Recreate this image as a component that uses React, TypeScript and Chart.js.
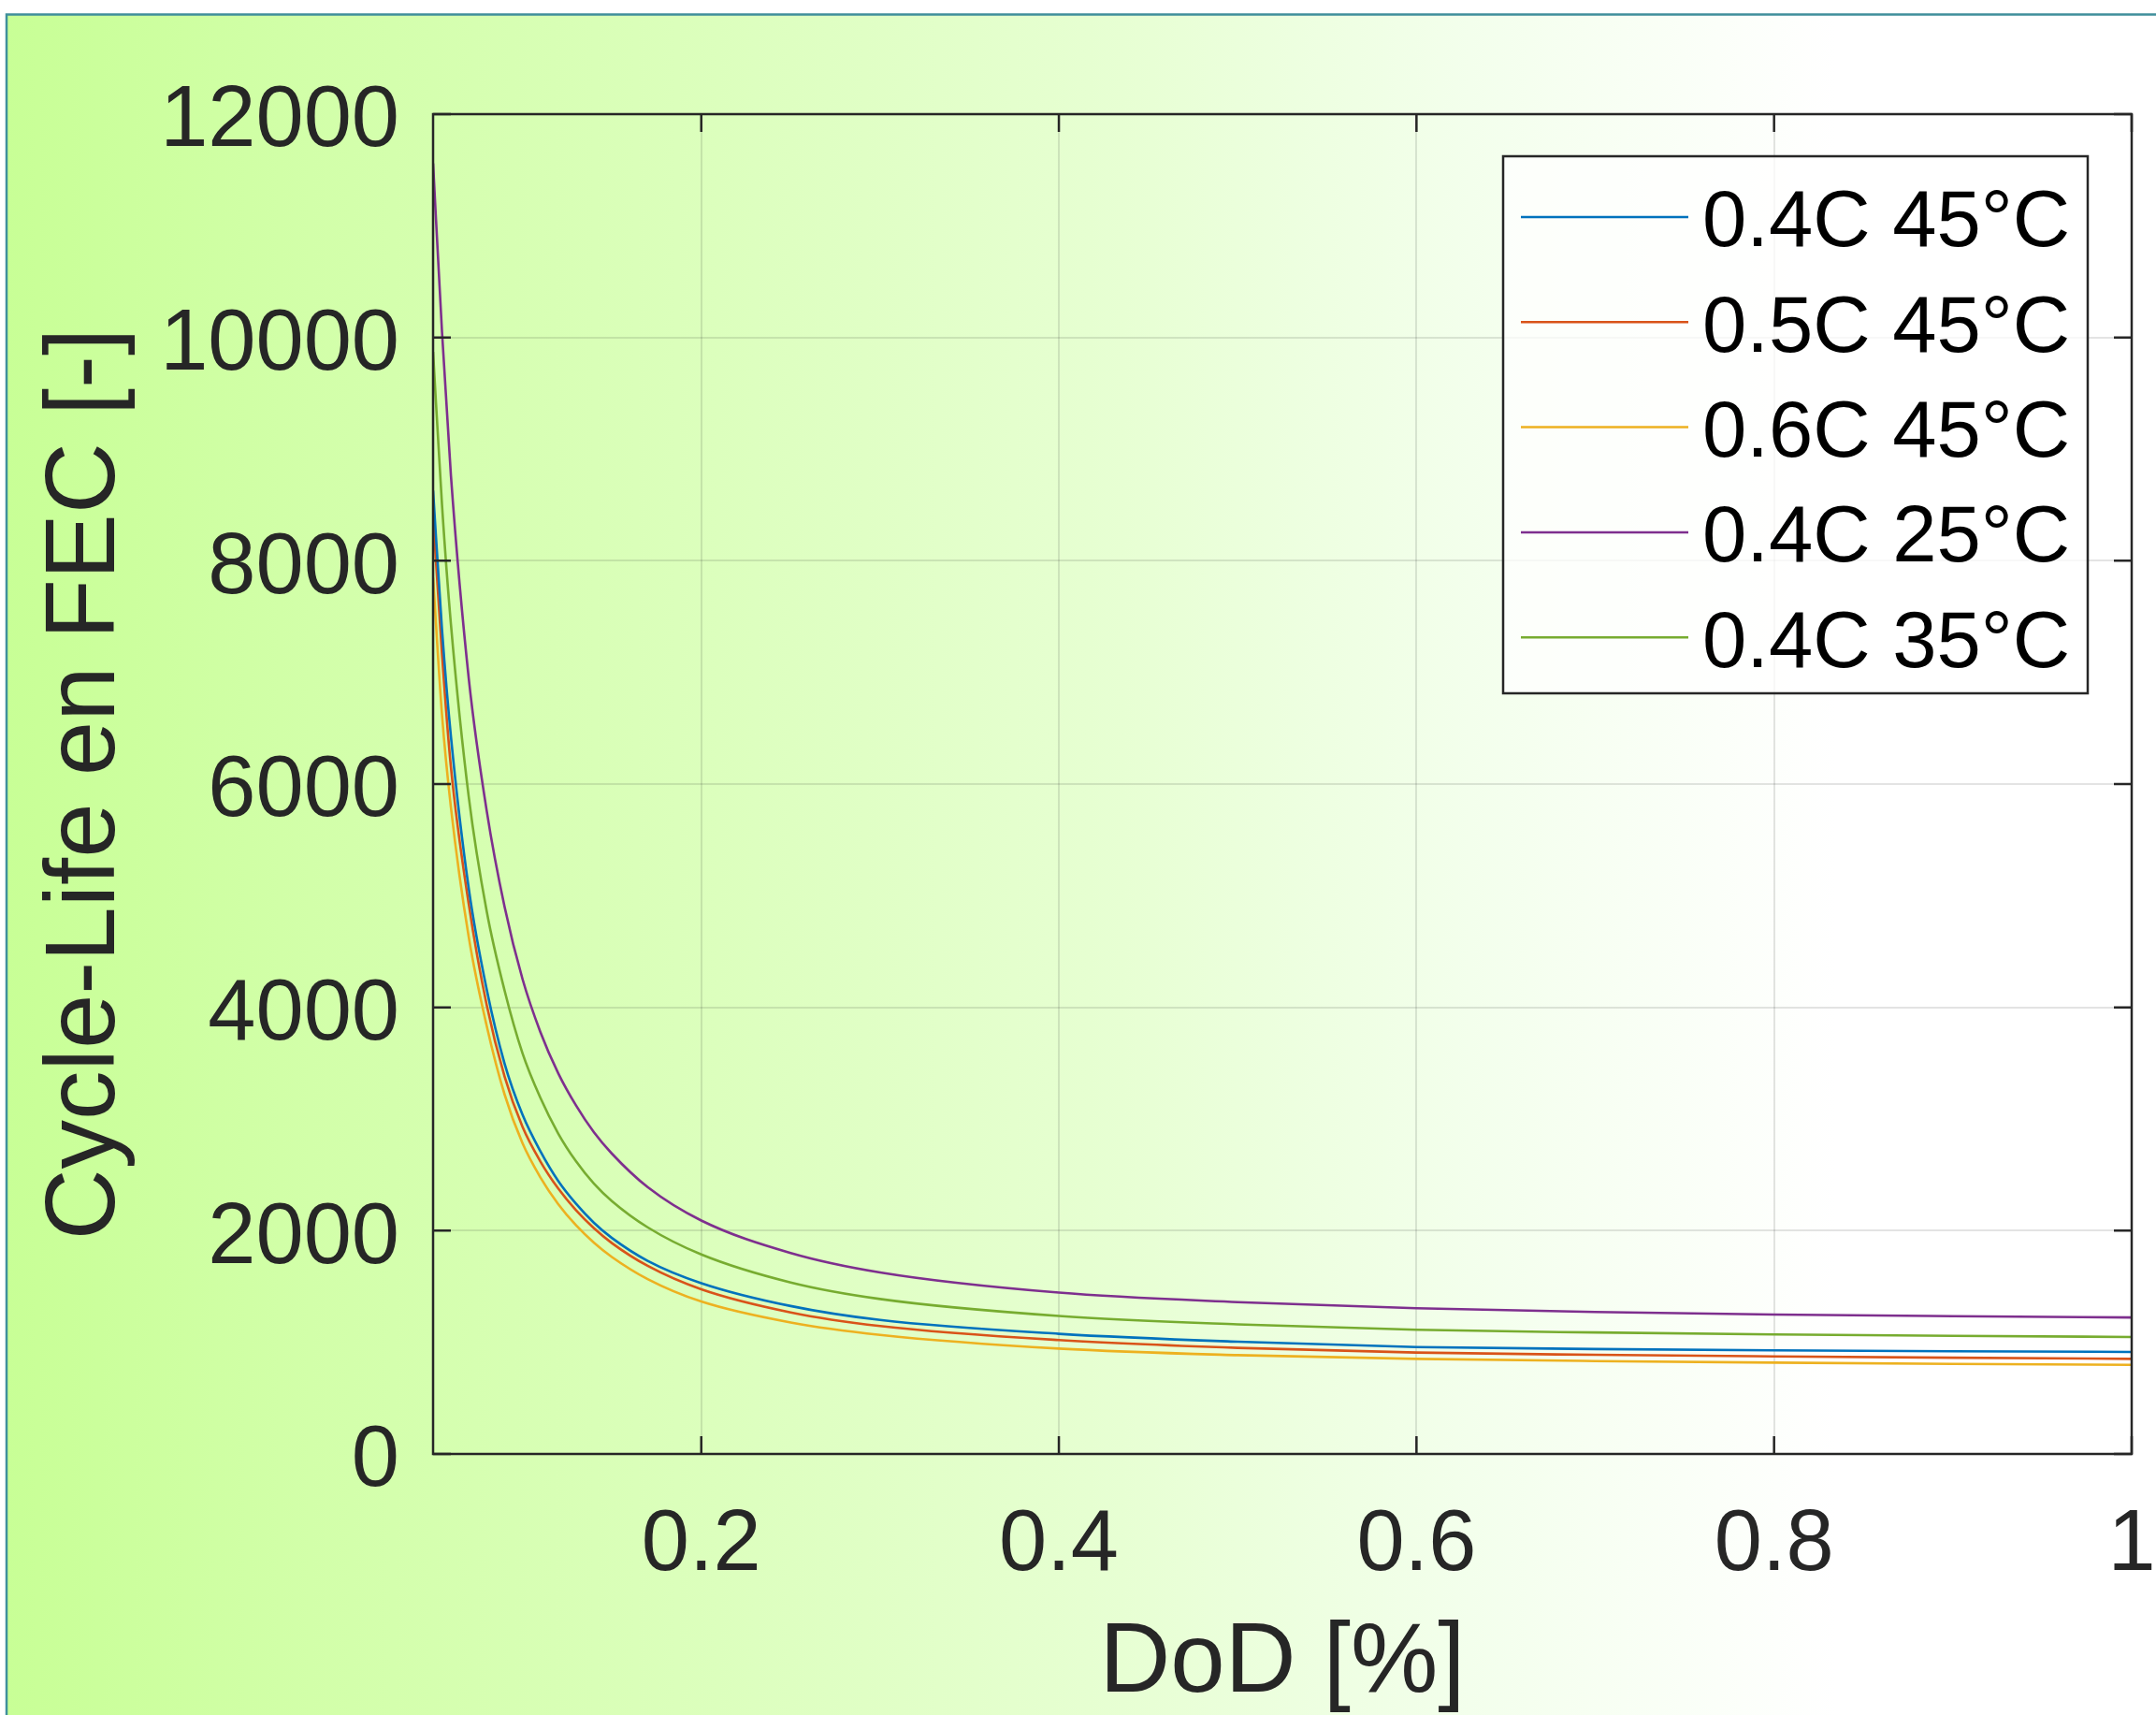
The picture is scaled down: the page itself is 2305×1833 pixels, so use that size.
import React, { useEffect, useRef } from "react";
import { Chart, registerables } from "chart.js";

Chart.register(...registerables);

// Depth of discharge (x) sample positions
const DOD = [0.05, 0.055, 0.06, 0.07, 0.08, 0.09, 0.1, 0.11, 0.12, 0.13, 0.14, 0.15, 0.17, 0.2, 0.25, 0.3, 0.4, 0.5, 0.6, 0.7, 0.8, 0.9, 1.0];

// Cycle-life (FEC) per series
const C04_45 = [8629, 7385, 6425, 5060, 4160, 3496, 3040, 2712, 2445, 2240, 2070, 1935, 1730, 1530, 1325, 1200, 1076, 1005, 958, 940, 928, 920, 914];
const C05_45 = [8407, 7160, 6150, 4920, 4020, 3380, 2930, 2620, 2377, 2182, 2022, 1889, 1685, 1475, 1268, 1146, 1020, 950, 908, 888, 874, 862, 852];
const C06_45 = [7850, 6620, 5790, 4625, 3834, 3220, 2784, 2478, 2238, 2047, 1892, 1764, 1566, 1365, 1177, 1066, 944, 885, 852, 832, 818, 807, 798];
const C04_25 = [11560, 10050, 8760, 6940, 5760, 4900, 4255, 3780, 3410, 3120, 2880, 2690, 2390, 2091, 1800, 1626, 1445, 1360, 1305, 1272, 1249, 1234, 1222];
const C04_35 = [9870, 8500, 7430, 5880, 4860, 4150, 3590, 3190, 2870, 2620, 2420, 2265, 2030, 1787, 1536, 1388, 1236, 1160, 1112, 1088, 1071, 1058, 1048];

const SERIES_LABELS = ["0.4C 45°C", "0.5C 45°C", "0.6C 45°C", "0.4C 25°C", "0.4C 35°C"];
const SERIES_VALUES = [C04_45, C05_45, C06_45, C04_25, C04_35];
const SERIES_COLORS = ["#0072BD", "#D95319", "#EDB120", "#7E2F8E", "#77AC30"];

const X_TICKS = [0.2, 0.4, 0.6, 0.8, 1];
const Y_TICKS = [0, 2000, 4000, 6000, 8000, 10000, 12000];

const X_TITLE = "DoD [%]";
const Y_TITLE = "Cycle-Life en FEC [-]";

const W = 2305;
const H = 1833;
const FONT = "'Liberation Sans', Arial, Helvetica, sans-serif";
const AXIS_COLOR = "#262626";

const backgroundPlugin = {
  id: "bgPlugin",
  beforeDraw(chart: any) {
    const ctx = chart.ctx;
    ctx.save();
    ctx.fillStyle = "#ffffff";
    ctx.fillRect(0, 0, W, H);
    const g = ctx.createLinearGradient(6, 0, 2180, 0);
    g.addColorStop(0, "#c8ff96");
    g.addColorStop(0.15, "#d2ffa9");
    g.addColorStop(0.35, "#dcffbd");
    g.addColorStop(0.55, "#e7ffd3");
    g.addColorStop(0.72, "#f3ffec");
    g.addColorStop(0.9, "#ffffff");
    g.addColorStop(1, "#ffffff");
    ctx.fillStyle = g;
    ctx.fillRect(7, 16, W - 7, H - 16);
    ctx.strokeStyle = "#3f8f9b";
    ctx.lineWidth = 2.5;
    ctx.beginPath();
    ctx.moveTo(7, H);
    ctx.lineTo(7, 15.5);
    ctx.lineTo(W, 15.5);
    ctx.stroke();
    ctx.restore();
  },
};

const frameLegendPlugin = {
  id: "frameLegend",
  afterDraw(chart: any) {
    const ctx = chart.ctx;
    const { left, right, top, bottom } = chart.chartArea;
    const xs = chart.scales.x;
    const ys = chart.scales.y;
    const tick = 19;
    ctx.save();
    ctx.strokeStyle = AXIS_COLOR;
    ctx.lineWidth = 2.5;
    ctx.lineCap = "butt";
    ctx.strokeRect(left, top, right - left, bottom - top);
    ctx.beginPath();
    X_TICKS.forEach((v) => {
      const px = xs.getPixelForValue(v);
      ctx.moveTo(px, bottom);
      ctx.lineTo(px, bottom - tick);
      ctx.moveTo(px, top);
      ctx.lineTo(px, top + tick);
    });
    Y_TICKS.forEach((v) => {
      const py = ys.getPixelForValue(v);
      ctx.moveTo(left, py);
      ctx.lineTo(left + tick, py);
      ctx.moveTo(right, py);
      ctx.lineTo(right - tick, py);
    });
    ctx.stroke();

    // Legend
    const lx = 1607, ly = 167, lw = 625, lh = 574;
    ctx.fillStyle = "rgba(255,255,255,0.75)";
    ctx.fillRect(lx, ly, lw, lh);
    ctx.strokeStyle = AXIS_COLOR;
    ctx.lineWidth = 2.5;
    ctx.strokeRect(lx, ly, lw, lh);
    ctx.font = `85px ${FONT}`;
    ctx.textBaseline = "middle";
    ctx.textAlign = "left";
    chart.data.datasets.forEach((ds: any, i: number) => {
      const y = 232 + i * 112.3;
      ctx.strokeStyle = ds.borderColor;
      ctx.lineWidth = 2.5;
      ctx.beginPath();
      ctx.moveTo(1626, y);
      ctx.lineTo(1805, y);
      ctx.stroke();
      ctx.fillStyle = "#000000";
      ctx.fillText(ds.label, 1820, y + 8);
    });
    ctx.restore();
  },
};

export default function App() {
  const ref = useRef<HTMLCanvasElement | null>(null);

  useEffect(() => {
    document.body.style.margin = "0";
    const canvas = ref.current;
    if (!canvas) return;
    const datasets = SERIES_LABELS.map((label, i) => ({
      label,
      data: DOD.map((x, j) => ({ x, y: SERIES_VALUES[i][j] })),
      borderColor: SERIES_COLORS[i],
      backgroundColor: SERIES_COLORS[i],
      borderWidth: 2.6,
      pointRadius: 0,
      cubicInterpolationMode: "monotone" as const,
      fill: false,
    }));
    const chart = new Chart(canvas, {
      type: "line",
      data: { datasets },
      options: {
        responsive: false,
        animation: false,
        devicePixelRatio: 1,
        layout: { padding: { top: 122, right: 26, left: 0, bottom: 0 } },
        plugins: { legend: { display: false }, tooltip: { enabled: false } },
        scales: {
          x: {
            type: "linear",
            min: 0.05,
            max: 1,
            afterBuildTicks: (s: any) => {
              s.ticks = X_TICKS.map((v) => ({ value: v }));
            },
            afterFit: (s: any) => {
              s.height = H - 1554;
              s.paddingLeft = 0;
              s.paddingRight = 0;
            },
            ticks: {
              font: { family: FONT, size: 92 },
              color: AXIS_COLOR,
              padding: 43,
              maxRotation: 0,
              autoSkip: false,
              callback: (v: any) => String(v),
            },
            grid: { color: "rgba(38,38,38,0.13)", lineWidth: 2, drawTicks: false },
            border: { display: false },
            title: {
              display: true,
              text: X_TITLE,
              font: { family: FONT, size: 105 },
              color: AXIS_COLOR,
              padding: { top: 0, bottom: -9 },
            },
          },
          y: {
            type: "linear",
            min: 0,
            max: 12000,
            afterBuildTicks: (s: any) => {
              s.ticks = Y_TICKS.map((v) => ({ value: v }));
            },
            afterFit: (s: any) => {
              s.width = 463;
              s.paddingTop = 0;
              s.paddingBottom = 0;
            },
            ticks: {
              font: { family: FONT, size: 92 },
              color: AXIS_COLOR,
              padding: 36,
              labelOffset: 9,
              autoSkip: false,
              callback: (v: any) => String(v),
            },
            grid: { color: "rgba(38,38,38,0.13)", lineWidth: 2, drawTicks: false },
            border: { display: false },
            title: {
              display: true,
              text: Y_TITLE,
              font: { family: FONT, size: 105 },
              color: AXIS_COLOR,
              padding: { top: 30, bottom: 0 },
            },
          },
        },
      },
      plugins: [backgroundPlugin, frameLegendPlugin],
    });
    return () => chart.destroy();
  }, []);

  return (
    <div style={{ width: W, height: H }}>
      <canvas ref={ref} width={W} height={H} style={{ display: "block" }} />
    </div>
  );
}
